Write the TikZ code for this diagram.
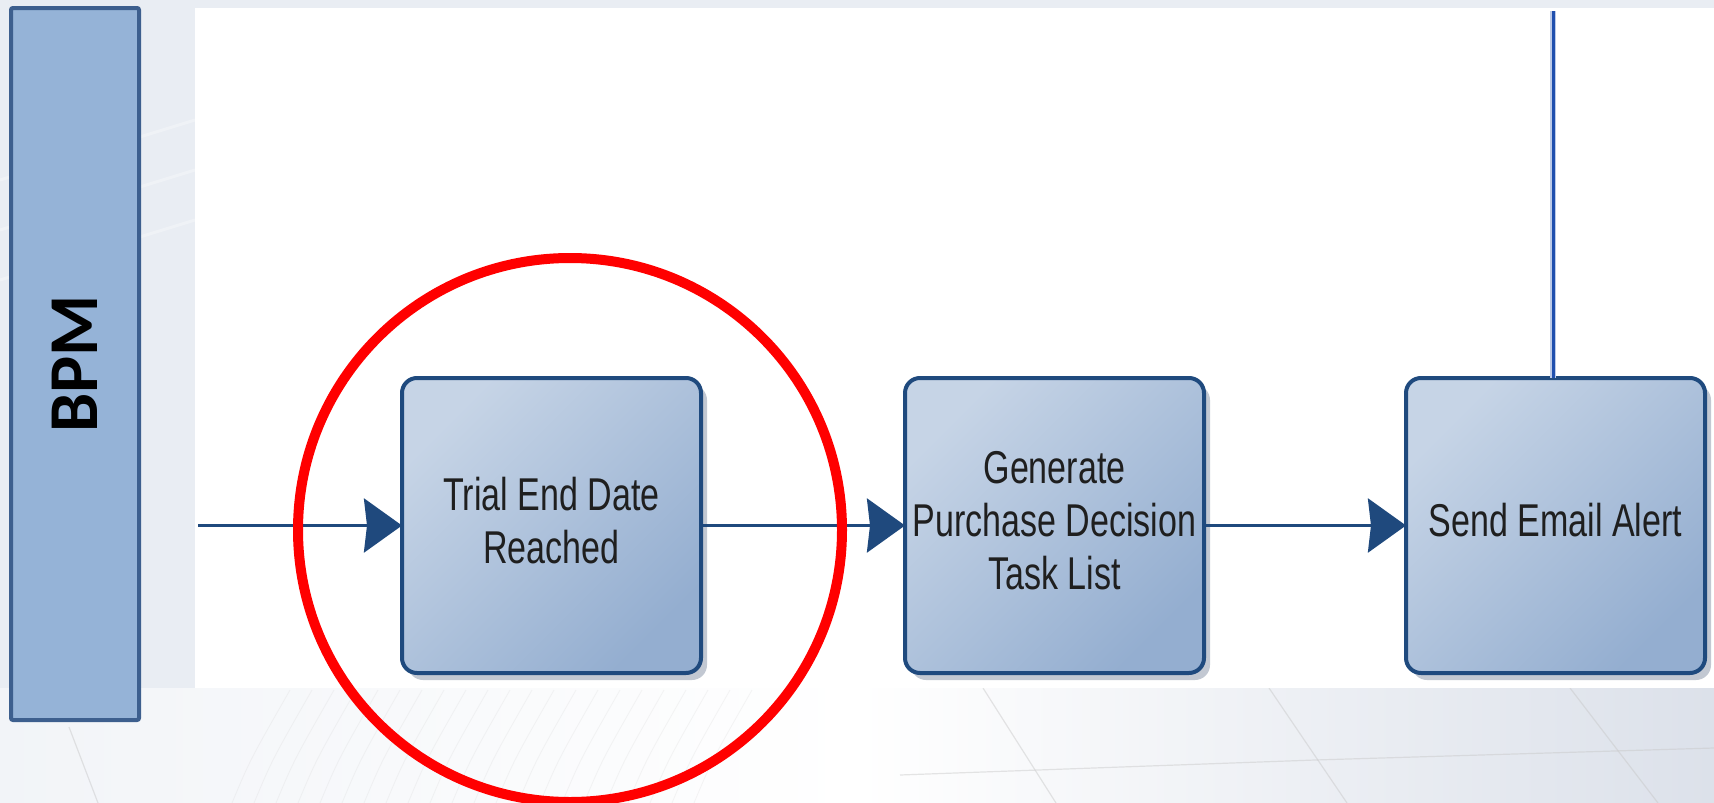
\documentclass[tikz,border=0pt]{standalone}
\usepackage{fontspec}
\usetikzlibrary{arrows.meta,shadows,calc}
\newfontfamily\boxfont[FakeStretch=0.74]{Liberation Sans}
\newfontfamily\lanefont{Carlito}

\definecolor{lanefill}{HTML}{95B3D7}
\definecolor{laneline}{HTML}{3D5F8E}
\definecolor{taskline}{HTML}{1F4A7E}
\definecolor{tasktop}{HTML}{C6D4E6}
\definecolor{taskbot}{HTML}{94AED0}
\definecolor{flowblue}{HTML}{1F497D}
\definecolor{msgblue}{HTML}{1F4FAE}
\definecolor{bgtint}{HTML}{E9EDF3}
\definecolor{floorright}{HTML}{DCE1EA}
\definecolor{shadowgrey}{HTML}{A9B2C0}
\definecolor{hilite}{HTML}{FF0000}

\begin{document}
\begin{tikzpicture}[x=1pt,y=-1pt,
  task/.style={rounded corners=15pt, draw=taskline, line width=4pt,
    minimum width=299pt, minimum height=295pt, outer sep=0pt,
    top color=tasktop, bottom color=taskbot, shading angle=45,
    drop shadow={shadow xshift=6pt, shadow yshift=-7pt, fill=shadowgrey, opacity=.7}},
  tasktext/.style={font=\boxfont\fontsize{46}{53}\selectfont, text=black!88, align=center, inner sep=0pt},
  flow/.style={draw=flowblue, line width=3.5pt, -{Stealth[length=38pt,width=54pt,inset=3pt]}},
  floorline/.style={draw=gray!45, line width=1.2pt, opacity=.45},
  hatch/.style={draw=gray!40, line width=.8pt, opacity=.2},
]
\clip (0,0) rectangle (1714,803);

% page background
\fill[bgtint] (0,0) rectangle (1714,803);
\shade[left color=bgtint!60!white, right color=floorright, middle color=white] (0,688) rectangle (1714,803);
\foreach \dx in {0,22,...,480}
  \draw[hatch] (232+\dx,803) .. controls (250+\dx,760) .. (290+\dx,690);
\draw[floorline] (983,688) -- (1056,803);
\draw[floorline] (1269,688) -- (1347,803);
\draw[floorline] (1570,688) -- (1658,803);
\draw[floorline] (900,775) -- (1315,760) -- (1714,748);
\draw[floorline] (69,727) -- (98,803);
\foreach \yy in {120,170,220,820,870}
  \draw[white, line width=3pt, opacity=.3] (0,\yy+60) -- (195,\yy);

% drawing area
\fill[white] (195,8) rectangle (1714,688);

% swimlane header
\node[draw=laneline, fill=lanefill, line width=4pt, rounded corners=2pt,
      minimum width=128pt, minimum height=712pt] (lane) at (75,364) {};
\node[rotate=90, font=\lanefont\bfseries\fontsize{70}{80}\selectfont, inner sep=0pt]
      (lanetitle) at (lane.center) {BPM};

% tasks
\node[task] (b1) at (551.5,525.5) {};
\node[task] (b2) at (1054.5,525.5) {};
\node[task] (b3) at (1555.5,525.5) {};
\node[tasktext] (t1) at ([yshift=4.5pt]b1.center) {Trial End Date\\Reached};
\node[tasktext] (t2) at ([yshift=4.5pt]b2.center) {Generate\\Purchase Decision\\Task List};
\node[tasktext] (t3) at ([yshift=5pt]b3.center) {Send Email Alert};

% sequence flows
\coordinate (start) at (198,525.5);
\coordinate (msgtop) at (1553,11);
\draw[flow] (start) -- (b1.west);
\draw[flow] (b1.east) -- (b2.west);
\draw[flow] (b2.east) -- (b3.west);
\draw[msgblue!30, line width=6pt] (msgtop) -- (msgtop |- b3.north);
\draw[msgblue, line width=3pt] (msgtop) -- (msgtop |- b3.north);

% highlight ring
\node[circle, draw=hilite, line width=10pt, minimum size=544pt, inner sep=0pt] (focus) at (570,530) {};
\end{tikzpicture}
\end{document}
